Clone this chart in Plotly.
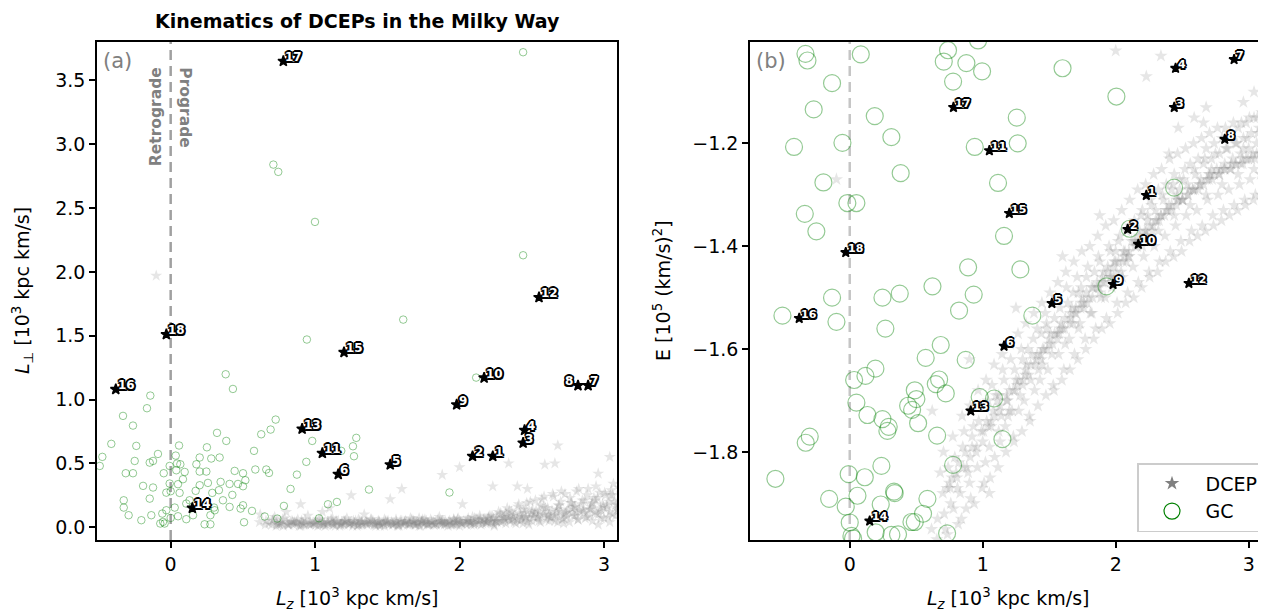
import plotly.graph_objects as go

# ---------------- data ----------------
# labelled DCEPs
dcep_id = [str(i) for i in range(1, 19)]
dcep_lz = [2.23, 2.09, 2.44, 2.45, 1.52, 1.16, 2.89, 2.82, 1.98, 2.17, 1.05, 2.55, 0.91, 0.15, 1.20, -0.38, 0.78, -0.03]
dcep_lperp = [0.556, 0.556, 0.66, 0.76, 0.49, 0.415, 1.11, 1.11, 0.96, 1.17, 0.58, 1.80, 0.77, 0.15, 1.37, 1.08, 3.65, 1.51]
dcep_E = [-1.301, -1.367, -1.130, -1.054, -1.511, -1.594, -1.037, -1.192, -1.474, -1.396, -1.214, -1.472, -1.720, -1.934, -1.336, -1.540, -1.130, -1.412]
label_side_a = ["r"] * 7 + ["l"] + ["r"] * 10

# background DCEP population
bg_lz = [0.66, 0.70, 0.72, 0.75, 0.78, 0.80, 0.83, 0.85, 0.88, 0.90, 0.92, 0.95, 0.97, 1.00, 1.02, 1.04, 1.06, 1.08,
         1.10, 1.12, 1.14, 1.16, 1.18, 1.20, 1.22, 1.24, 1.26, 1.28, 1.30, 1.32, 1.34, 1.36, 1.38, 1.40, 1.42, 1.44,
         1.46, 1.48, 1.50, 1.52, 1.54, 1.56, 1.58, 1.60, 1.62, 1.64, 1.66, 1.68, 1.70, 1.72, 1.74, 1.76, 1.78, 1.80,
         1.82, 1.84, 1.86, 1.88, 1.90, 1.92, 1.94, 1.96, 1.98, 2.00, 2.02, 2.04, 2.06, 2.08, 2.10, 2.12, 2.14, 2.16,
         2.18, 2.20, 2.22, 2.24, 2.26, 2.28, 2.30, 2.32, 2.34, 2.36, 2.38, 2.40, 2.42, 2.44, 2.46, 2.48, 2.50, 2.52,
         2.54, 2.56, 2.58, 2.60, 2.62, 2.64, 2.66, 2.68, 2.70, 2.72, 2.74, 2.76, 2.78, 2.80, 2.82, 2.84, 2.86, 2.88,
         2.90, 2.92, 2.94, 2.96, 2.98, 3.00, 3.02, 3.04, 3.06, 3.08, 3.10, 3.12,
         2.00, 2.34, 2.23, 2.68, 2.96, 3.04, 2.47, 2.59, 2.66, 1.88, 2.40, 1.60, 1.25, 0.90, 0.62, 1.05, -0.10,
         0.68, 0.71, 0.74, 0.76, 0.79, 0.81, 0.84, 0.86, 0.89, 0.91, 0.93, 0.96, 0.98, 1.01, 1.03, 1.05, 1.07, 1.09,
         1.11, 1.13, 1.15, 1.17, 1.19, 1.21, 1.23, 1.25, 1.27, 1.29, 1.31, 1.33, 1.35, 1.37, 1.39, 1.41, 1.43, 1.45,
         1.47, 1.49, 1.51, 1.53, 1.55, 1.57, 1.59, 1.61, 1.63, 1.65, 1.67, 1.69, 1.71, 1.73, 1.75, 1.77, 1.79, 1.81,
         1.83, 1.85, 1.87, 1.89, 1.91, 1.93, 1.95, 1.97, 1.99, 2.01, 2.03, 2.05, 2.07, 2.09, 2.11, 2.13, 2.15, 2.17,
         2.19, 2.21, 2.23, 2.25, 2.27, 2.29, 2.31, 2.33, 2.35, 2.37, 2.39, 2.41, 2.43, 2.45, 2.47, 2.49, 2.51, 2.53,
         2.55, 2.57, 2.59, 2.61, 2.63, 2.65, 2.67, 2.69, 2.71, 2.73, 2.75, 2.77, 2.79, 2.81, 2.83, 2.85, 2.87, 2.89,
         2.91, 2.93, 2.95, 2.97, 2.99, 3.01, 3.03, 3.05, 3.07, 3.09, 3.11,
         0.73, 0.77, 0.82, 0.87, 0.92, 0.99, 1.04, 1.09, 1.13, 1.18, 1.23, 1.27, 1.32, 1.36, 1.41, 1.45, 1.50, 1.54,
         1.58, 1.62, 1.66, 1.70, 1.74, 1.78, 1.82, 1.86, 1.90, 1.94, 1.98, 2.02, 2.06, 2.10, 2.14, 2.18, 2.22, 2.26,
         2.30, 2.34, 2.38, 2.42, 2.46, 2.50, 2.54, 2.58, 2.62, 2.66, 2.70, 2.74, 2.78, 2.82, 2.86, 2.90, 2.94, 2.98,
         3.02, 3.06, 3.10, 1.20, 1.30, 1.44, 1.56, 1.68, 1.76, 1.88, 1.96, 2.08, 2.20, 2.32, 2.44, 2.56, 2.68, 2.80,
         2.92, 3.04, 1.12, 1.48, 1.72, 2.00, 2.24, 2.48, 2.72, 2.96,
         0.615, 0.655, 0.705, 0.735, 0.775, 0.815, 0.845, 0.875, 0.905, 0.935, 0.965, 0.995, 1.025, 1.055, 1.085,
         1.115, 1.145, 1.175, 1.205, 1.235, 1.265, 1.295, 1.325, 1.355, 1.385, 1.415, 1.445, 1.475, 1.505, 1.535,
         1.565, 1.595, 1.625, 1.655, 1.685, 1.715, 1.745, 1.775, 1.805, 1.835, 1.865, 1.895, 1.925, 1.955, 1.985,
         2.015, 2.045, 2.075, 2.105, 2.135, 2.165, 2.195, 2.225, 2.255, 2.285, 2.315, 2.345, 2.375, 2.405, 2.435,
         2.465, 2.495, 2.525, 2.555, 2.585, 2.615, 2.645, 2.675, 2.705, 2.735, 2.765, 2.795, 2.825, 2.855, 2.885,
         2.915, 2.945, 2.975, 3.005, 3.035, 3.065, 3.095, 3.125,
         1.005, 1.065, 1.125, 1.185, 1.245, 1.305, 1.345, 1.395, 1.435, 1.485, 1.525, 1.575, 1.615, 1.655, 1.695,
         1.735, 1.785, 1.825, 1.875, 1.915, 1.965, 2.005, 2.055, 2.095, 2.145, 2.185, 2.235, 2.275, 2.325, 2.365,
         2.415, 2.455, 2.505, 2.545, 2.595, 2.635, 2.685, 2.725, 2.775, 2.815, 2.865, 2.905, 2.955, 2.995, 3.045,
         3.085, 0.955, 0.905, 0.855, 0.805, 0.755]
bg_lperp = [0.05, 0.02, 0.08, 0.03, 0.01, 0.12, 0.04, 0.02, 0.06, 0.01, 0.03, 0.09, 0.02, 0.04, 0.01, 0.06, 0.03, 0.02,
            0.15, 0.04, 0.01, 0.05, 0.03, 0.02, 0.07, 0.03, 0.01, 0.05, 0.02, 0.04, 0.10, 0.02, 0.03, 0.05, 0.01, 0.04,
            0.02, 0.06, 0.03, 0.22, 0.02, 0.04, 0.01, 0.05, 0.03, 0.02, 0.07, 0.03, 0.04, 0.01, 0.05, 0.03, 0.02, 0.06,
            0.04, 0.02, 0.08, 0.03, 0.05, 0.01, 0.04, 0.06, 0.02, 0.05, 0.18, 0.03, 0.07, 0.04, 0.02, 0.06, 0.09, 0.03,
            0.05, 0.08, 0.04, 0.02, 0.07, 0.10, 0.05, 0.03, 0.08, 0.12, 0.04, 0.06, 0.09, 0.03, 0.14, 0.07, 0.05, 0.11,
            0.08, 0.04, 0.16, 0.06, 0.10, 0.13, 0.05, 0.09, 0.20, 0.07, 0.12, 0.04, 0.15, 0.09, 0.06, 0.18, 0.11, 0.08,
            0.14, 0.05, 0.21, 0.10, 0.13, 0.07, 0.17, 0.12, 0.25, 0.09, 0.15, 0.06,
            0.47, 0.50, 0.32, 0.64, 0.42, 0.55, 0.30, 0.49, 0.50, 0.41, 0.32, 0.30, 0.25, 0.18, 0.10, 0.12, 1.97,
            0.03, 0.06, 0.02, 0.04, 0.07, 0.02, 0.05, 0.03, 0.01, 0.04, 0.06, 0.02, 0.03, 0.05, 0.02, 0.04, 0.01, 0.03,
            0.06, 0.02, 0.04, 0.01, 0.03, 0.05, 0.02, 0.04, 0.03, 0.01, 0.05, 0.02, 0.04, 0.03, 0.06, 0.02, 0.04, 0.01,
            0.03, 0.05, 0.02, 0.04, 0.03, 0.01, 0.05, 0.02, 0.04, 0.03, 0.06, 0.02, 0.04, 0.01, 0.03, 0.05, 0.02, 0.04,
            0.03, 0.06, 0.02, 0.04, 0.03, 0.05, 0.02, 0.04, 0.07, 0.03, 0.05, 0.02, 0.04, 0.08, 0.03, 0.05, 0.02, 0.06,
            0.04, 0.09, 0.03, 0.05, 0.12, 0.04, 0.07, 0.15, 0.05, 0.09, 0.03, 0.18, 0.06, 0.11, 0.04, 0.20, 0.08, 0.13,
            0.05, 0.22, 0.10, 0.15, 0.07, 0.24, 0.12, 0.17, 0.06, 0.26, 0.14, 0.19, 0.09, 0.28, 0.13, 0.21, 0.07, 0.30,
            0.16, 0.23, 0.11, 0.27, 0.18, 0.25, 0.08, 0.29, 0.20, 0.14, 0.31,
            0.01, 0.03, 0.02, 0.04, 0.02, 0.03, 0.02, 0.04, 0.03, 0.02, 0.04, 0.03, 0.02, 0.04, 0.03, 0.02, 0.04, 0.03,
            0.02, 0.04, 0.03, 0.02, 0.04, 0.03, 0.02, 0.04, 0.03, 0.02, 0.04, 0.03, 0.05, 0.04, 0.06, 0.03, 0.05, 0.04,
            0.08, 0.06, 0.10, 0.05, 0.08, 0.12, 0.07, 0.10, 0.05, 0.09, 0.13, 0.08, 0.11, 0.06, 0.14, 0.09, 0.12, 0.07,
            0.15, 0.10, 0.13, 0.05, 0.06, 0.05, 0.06, 0.05, 0.06, 0.05, 0.06, 0.02, 0.07, 0.11, 0.14, 0.17, 0.04, 0.16,
            0.19, 0.04, 0.07, 0.01, 0.07, 0.01, 0.01, 0.02, 0.03, 0.02,
            0.04, 0.02, 0.05, 0.03, 0.06, 0.02, 0.04, 0.03, 0.05, 0.02, 0.04, 0.03, 0.06, 0.02, 0.04,
            0.03, 0.05, 0.02, 0.04, 0.03, 0.05, 0.02, 0.04, 0.03, 0.06, 0.02, 0.04, 0.03, 0.05, 0.02,
            0.04, 0.03, 0.05, 0.02, 0.04, 0.03, 0.06, 0.02, 0.04, 0.03, 0.05, 0.02, 0.04, 0.03, 0.06,
            0.03, 0.05, 0.04, 0.07, 0.03, 0.06, 0.04, 0.09, 0.05, 0.11, 0.06, 0.13, 0.07, 0.16, 0.08,
            0.19, 0.10, 0.21, 0.12, 0.24, 0.09, 0.26, 0.14, 0.28, 0.11, 0.23, 0.16, 0.30, 0.13, 0.25,
            0.18, 0.32, 0.15, 0.27, 0.20, 0.34, 0.17, 0.29,
            0.02, 0.03, 0.02, 0.04, 0.03, 0.02, 0.04, 0.03, 0.02, 0.04, 0.03, 0.02, 0.04, 0.03, 0.02,
            0.04, 0.03, 0.02, 0.04, 0.03, 0.02, 0.04, 0.05, 0.03, 0.06, 0.04, 0.07, 0.05, 0.09, 0.06,
            0.11, 0.07, 0.13, 0.09, 0.15, 0.08, 0.17, 0.10, 0.19, 0.12, 0.21, 0.14, 0.23, 0.16, 0.25,
            0.18, 0.03, 0.02, 0.04, 0.03, 0.02]
bg_E = [-1.93, -1.88, -1.95, -1.86, -1.91, -1.84, -1.88, -1.79, -1.83, -1.86, -1.77, -1.80, -1.74, -1.78, -1.82, -1.70,
        -1.75, -1.72, -1.69, -1.76, -1.73, -1.66, -1.70, -1.68, -1.72, -1.64, -1.67, -1.69, -1.62, -1.65, -1.60, -1.66,
        -1.58, -1.62, -1.64, -1.57, -1.60, -1.55, -1.59, -1.61, -1.54, -1.57, -1.52, -1.56, -1.59, -1.51, -1.54, -1.49,
        -1.53, -1.56, -1.48, -1.51, -1.46, -1.50, -1.53, -1.45, -1.48, -1.43, -1.47, -1.50, -1.44, -1.41, -1.46, -1.43,
        -1.39, -1.45, -1.41, -1.37, -1.42, -1.39, -1.35, -1.40, -1.37, -1.33, -1.38, -1.35, -1.31, -1.36, -1.33, -1.29,
        -1.34, -1.31, -1.28, -1.32, -1.29, -1.26, -1.30, -1.27, -1.31, -1.25, -1.28, -1.24, -1.29, -1.26, -1.23, -1.27,
        -1.24, -1.21, -1.26, -1.23, -1.20, -1.25, -1.22, -1.19, -1.24, -1.21, -1.18, -1.23, -1.20, -1.17, -1.22, -1.19,
        -1.16, -1.21, -1.18, -1.15, -1.20, -1.17, -1.14, -1.19,
        -1.02, -1.03, -1.07, -1.13, -1.12, -1.10, -1.17, -1.15, -1.16, -1.34, -1.22, -1.42, -1.52, -1.62, -1.72, -1.88, -1.27,
        -1.84, -1.92, -1.83, -1.90, -1.81, -1.87, -1.93, -1.76, -1.84, -1.89, -1.75, -1.83, -1.71, -1.86, -1.74, -1.79,
        -1.67, -1.81, -1.70, -1.78, -1.64, -1.75, -1.73, -1.62, -1.77, -1.66, -1.72, -1.60, -1.70, -1.63, -1.73, -1.61,
        -1.68, -1.56, -1.66, -1.63, -1.53, -1.64, -1.57, -1.67, -1.50, -1.61, -1.55, -1.64, -1.48, -1.58, -1.52, -1.61,
        -1.46, -1.55, -1.50, -1.58, -1.44, -1.53, -1.48, -1.56, -1.42, -1.50, -1.45, -1.54, -1.40, -1.48, -1.43, -1.51,
        -1.38, -1.46, -1.41, -1.49, -1.36, -1.44, -1.39, -1.47, -1.34, -1.42, -1.37, -1.45, -1.32, -1.40, -1.35, -1.43,
        -1.30, -1.38, -1.33, -1.41, -1.28, -1.36, -1.31, -1.39, -1.27, -1.34, -1.29, -1.37, -1.25, -1.33, -1.28, -1.36,
        -1.23, -1.31, -1.26, -1.34, -1.22, -1.30, -1.25, -1.33, -1.21, -1.29, -1.24, -1.32, -1.20, -1.28, -1.23, -1.31,
        -1.19, -1.27, -1.22, -1.30, -1.18, -1.26, -1.21,
        -1.87, -1.85, -1.82, -1.80, -1.79, -1.76, -1.75, -1.73, -1.71, -1.69, -1.68, -1.66, -1.64, -1.63, -1.61, -1.60,
        -1.58, -1.57, -1.56, -1.54, -1.53, -1.52, -1.51, -1.49, -1.48, -1.47, -1.46, -1.45, -1.44, -1.43, -1.42, -1.41,
        -1.39, -1.38, -1.37, -1.36, -1.35, -1.34, -1.33, -1.32, -1.31, -1.31, -1.30, -1.29, -1.29, -1.28, -1.27, -1.26,
        -1.26, -1.25, -1.25, -1.24, -1.24, -1.23, -1.23, -1.22, -1.22, -1.72, -1.67, -1.62, -1.58, -1.55, -1.52, -1.49,
        -1.46, -1.43, -1.40, -1.37, -1.34, -1.32, -1.30, -1.28, -1.26, -1.25, -1.69, -1.56, -1.49, -1.41, -1.34, -1.29,
        -1.25, -1.21,
        -1.95, -1.97, -1.80, -1.96, -1.77, -1.94, -1.73, -1.91, -1.71, -1.90, -1.68, -1.87, -1.66, -1.85, -1.63,
        -1.83, -1.61, -1.80, -1.59, -1.78, -1.57, -1.76, -1.55, -1.74, -1.53, -1.71, -1.51, -1.69, -1.49, -1.68,
        -1.47, -1.66, -1.45, -1.64, -1.43, -1.62, -1.41, -1.60, -1.40, -1.58, -1.38, -1.56, -1.36, -1.55, -1.35,
        -1.53, -1.33, -1.51, -1.31, -1.50, -1.29, -1.48, -1.28, -1.46, -1.26, -1.45, -1.25, -1.43, -1.23, -1.42,
        -1.22, -1.41, -1.21, -1.39, -1.20, -1.38, -1.19, -1.37, -1.18, -1.36, -1.17, -1.35, -1.17, -1.34, -1.16,
        -1.33, -1.16, -1.32, -1.15, -1.31, -1.15, -1.30, -1.16,
        -1.76, -1.74, -1.72, -1.70, -1.68, -1.66, -1.65, -1.63, -1.61, -1.60, -1.59, -1.57, -1.56, -1.55, -1.53,
        -1.52, -1.51, -1.50, -1.48, -1.47, -1.46, -1.45, -1.43, -1.42, -1.40, -1.39, -1.38, -1.37, -1.35, -1.34,
        -1.33, -1.32, -1.31, -1.30, -1.29, -1.28, -1.27, -1.27, -1.26, -1.25, -1.25, -1.24, -1.24, -1.23, -1.23,
        -1.22, -1.79, -1.81, -1.83, -1.85, -1.87]

# globular clusters, panel (a)
gc_a_lz = [0.943, 0.381, 0.431, -0.141, -0.164, -0.330, -0.261, 0.727, 0.692, 0.627, 0.321, 0.385, 0.980, 1.285, 1.262,
           1.269, 1.181, -0.411, -0.238, 0.058, 0.251, -0.473, -0.491, -0.249, -0.145, -0.122, -0.088, 0.035, 0.044,
           0.067, -0.007, 0.097, 0.039, -0.048, -0.311, -0.261, 0.178, 0.201, 0.281, 0.339, 0.577, 0.586, 0.662, 0.681,
           0.939, 0.874, 0.443, 0.501, 0.247, 0.201, 0.085, 0.051, -0.007, 0.000, 0.062, -0.030, -0.191, -0.122, -0.145,
           -0.325, -0.325, -0.291, -0.203, -0.134, -0.058, -0.072, -0.042, 0.000, 0.051, 0.108, 0.131, 0.108, 0.173,
           0.201, 0.258, 0.288, 0.334, 0.346, 0.408, 0.466, 0.501, 0.517, 0.427, 0.362, 0.300, 0.305, 0.408, 0.484,
           0.501, 0.563, 0.508, 0.235, 0.275, 0.275, 0.155, 0.651, 0.738, 0.784, 0.830, 1.027, 1.089, 1.151, 1.373,
           -0.030, 0.028, -0.053, 0.711, 0.745, 0.999, 1.610, 2.44, 2.44, 2.115, 1.93]
gc_a_lperp = [1.470, 1.198, 1.083, 1.031, 0.932, 0.872, 0.796, 0.843, 0.765, 0.728, 0.739, 0.676, 0.676, 0.700, 0.634,
              0.556, 0.598, 0.653, 0.637, 0.640, 0.626, 0.551, 0.480, 0.519, 0.506, 0.519, 0.574, 0.561, 0.499, 0.493,
              0.480, 0.433, 0.446, 0.423, 0.423, 0.423, 0.493, 0.546, 0.538, 0.546, 0.598, 0.452, 0.452, 0.425, 0.512,
              0.412, 0.441, 0.423, 0.436, 0.436, 0.376, 0.337, 0.342, 0.282, 0.269, 0.271, 0.324, 0.311, 0.224, 0.211,
              0.154, 0.094, 0.055, 0.094, 0.107, 0.029, 0.029, 0.073, 0.086, 0.063, 0.211, 0.185, 0.285, 0.329, 0.347,
              0.269, 0.290, 0.355, 0.339, 0.339, 0.321, 0.368, 0.253, 0.211, 0.154, 0.133, 0.159, 0.146, 0.172, 0.128,
              0.039, 0.023, 0.094, 0.023, 0.094, 0.084, 0.068, 0.167, 0.300, 0.070, 0.180, 0.198, 0.295, 0.133, 0.154,
              0.042, 2.840, 2.783, 2.391, 1.626, 3.72, 2.13, 1.172, 0.272]

# globular clusters, panel (b)
gc_b_lz = [-0.333, -0.318, 0.083, 0.739, 0.707, 0.877, 0.995, 0.777, 0.965, -0.133, -0.271, 0.188, 0.313, -0.419, -0.055,
           0.940, 0.383, -0.198, -0.018, 0.050, -0.338, -0.251, 1.115, 1.16,
           -0.133, 0.246, 0.376, 0.622, 0.932, 0.822, 1.373, -0.506, -0.100, 0.268, 0.684, 0.571, 0.872, 0.193, 0.118,
           0.033, 0.672, 0.647, 0.722, 0.489, 0.501, 0.439, 0.469, 0.977, 1.085, 0.050, 0.133, 0.246, 0.293, 0.283,
           0.514, 0.657, 1.148, -0.301, -0.331, 0.777, 0.238, -0.008, 0.113, -0.559, 0.333, 0.338, 0.058, -0.155, 0.584,
           0.233, -0.030, 0.551, 0.464, 0.489, 0.000, 0.195, 0.013, 0.025, 0.313, 0.363, 0.732,
           2.439, 2.105, 1.930, 0.890, 1.283, 2.005, 1.60, 1.256, 1.263]
gc_b_E = [-1.026, -1.039, -1.027, -1.019, -1.041, -1.044, -1.060, -1.080, -1.000, -1.083, -1.134, -1.147, -1.188, -1.207,
          -1.199, -1.207, -1.258, -1.276, -1.316, -1.316, -1.337, -1.371, -1.277, -1.38,
          -1.500, -1.500, -1.492, -1.478, -1.494, -1.525, -1.535, -1.535, -1.547, -1.560, -1.592, -1.617, -1.621, -1.638,
          -1.652, -1.660, -1.659, -1.668, -1.686, -1.680, -1.697, -1.710, -1.718, -1.693, -1.696, -1.704, -1.728, -1.736,
          -1.751, -1.759, -1.744, -1.768, -1.775, -1.770, -1.782, -1.825, -1.827, -1.843, -1.849, -1.852, -1.877, -1.880,
          -1.885, -1.891, -1.891, -1.902, -1.906, -1.920, -1.936, -1.936, -1.937, -1.956, -1.963, -1.968, -1.961, -1.960,
          -1.958,
          -1.286, -1.366, -1.478, -1.441, -1.445, -1.109, -1.054, -1.150, -1.200]

x_ticks = [0, 1, 2, 3]
ya_ticks = [0.0, 0.5, 1.0, 1.5, 2.0, 2.5, 3.0, 3.5]
yb_ticks = [-1.8, -1.6, -1.4, -1.2]

# ---------------- figure ----------------
FONT = "DejaVu Sans"
# the page body adds an 8 px offset; work in reference pixels minus 8
OFF = 8
W, H = 1266 - OFF, 612 - OFF


def px(x):
    return (x - OFF) / W


def py(y):
    return 1 - (y - OFF) / H


bg_col = "rgba(128,128,128,0.2)"
gc_col = "rgba(0,128,0,0.42)"
outline = ("-1.5px -1.5px 0 #000, 1.5px -1.5px 0 #000, -1.5px 1.5px 0 #000, 1.5px 1.5px 0 #000, "
           "0 1.8px 0 #000, 0 -1.8px 0 #000, 1.8px 0 0 #000, -1.8px 0 0 #000")

fig = go.Figure()

# panel (a)
fig.add_trace(go.Scatter(x=bg_lz, y=bg_lperp, mode="markers", xaxis="x", yaxis="y", showlegend=False,
                         marker=dict(symbol="star", size=9, color=bg_col, line=dict(width=0))))
fig.add_trace(go.Scatter(x=gc_a_lz, y=gc_a_lperp, mode="markers", xaxis="x", yaxis="y", showlegend=False,
                         marker=dict(symbol="circle-open", size=7.5, color=gc_col, line=dict(width=1))))
fig.add_trace(go.Scatter(x=dcep_lz, y=dcep_lperp, mode="markers", xaxis="x", yaxis="y", showlegend=False,
                         marker=dict(symbol="star", size=8, color="black", line=dict(width=1.5, color="black"))))

# panel (b)
fig.add_trace(go.Scatter(x=bg_lz, y=bg_E, mode="markers", xaxis="x2", yaxis="y2", showlegend=False,
                         marker=dict(symbol="star", size=10, color=bg_col, line=dict(width=0))))
fig.add_trace(go.Scatter(x=gc_b_lz, y=gc_b_E, mode="markers", xaxis="x2", yaxis="y2", showlegend=False,
                         marker=dict(symbol="circle-open", size=17, color=gc_col, line=dict(width=1.2))))
fig.add_trace(go.Scatter(x=dcep_lz, y=dcep_E, mode="markers", xaxis="x2", yaxis="y2", showlegend=False,
                         marker=dict(symbol="star", size=7.5, color="black", line=dict(width=1.5, color="black"))))

# legend proxies
fig.add_trace(go.Scatter(x=[None], y=[None], mode="markers", name="DCEP", xaxis="x2", yaxis="y2",
                         marker=dict(symbol="star", size=11, color="grey")))
fig.add_trace(go.Scatter(x=[None], y=[None], mode="markers", name="GC", xaxis="x2", yaxis="y2",
                         marker=dict(symbol="circle-open", size=16, color="green", line=dict(width=1.2))))

annotations = []
for i, t in enumerate(dcep_id):
    side = label_side_a[i]
    annotations.append(dict(x=dcep_lz[i], y=dcep_lperp[i], xref="x", yref="y", text=t, showarrow=False,
                            xanchor="left" if side == "r" else "right", yanchor="middle",
                            xshift=0 if side == "r" else -3, yshift=4,
                            font=dict(family=FONT, size=12, color="white", weight="bold", shadow=outline)))
    annotations.append(dict(x=dcep_lz[i], y=dcep_E[i], xref="x2", yref="y2", text=t, showarrow=False,
                            xanchor="left", yanchor="middle", xshift=0, yshift=4,
                            font=dict(family=FONT, size=11, color="white", weight="bold", shadow=outline)))

xa0, xa1 = px(97), px(617)
xb0, xb1 = px(750), 1.0
y0, y1 = py(540), py(42)

annotations += [
    dict(x=(xa0 + xa1) / 2, y=py(21), xref="paper", yref="paper", text="<b>Kinematics of DCEPs in the Milky Way</b>",
         showarrow=False, xanchor="center", yanchor="middle", font=dict(family=FONT, size=19, color="black")),
    dict(x=(xa0 + xa1) / 2, y=py(598), xref="paper", yref="paper",
         text="<i>L<sub>z</sub></i> [10<sup>3</sup> kpc km/s]", showarrow=False, xanchor="center", yanchor="middle",
         font=dict(family=FONT, size=19, color="black")),
    dict(x=(px(750) + px(1266)) / 2, y=py(598), xref="paper", yref="paper",
         text="<i>L<sub>z</sub></i> [10<sup>3</sup> kpc km/s]", showarrow=False, xanchor="center", yanchor="middle",
         font=dict(family=FONT, size=19, color="black")),
    dict(x=px(22), y=(y0 + y1) / 2, xref="paper", yref="paper",
         text="<i>L</i><sub>⊥</sub> [10<sup>3</sup> kpc km/s]", showarrow=False, textangle=-90,
         xanchor="center", yanchor="middle", font=dict(family=FONT, size=19, color="black")),
    dict(x=px(662), y=(y0 + y1) / 2, xref="paper", yref="paper",
         text="E [10<sup>5</sup> (km/s)<sup>2</sup>]", showarrow=False, textangle=-90,
         xanchor="center", yanchor="middle", font=dict(family=FONT, size=19, color="black")),
    dict(x=0, y=3.62, xref="x", yref="y", text="<b>Retrograde</b>", showarrow=False, textangle=-90,
         xanchor="right", yanchor="top", xshift=-3, font=dict(family=FONT, size=15.5, color="grey")),
    dict(x=0, y=3.62, xref="x", yref="y", text="<b>Prograde</b>", showarrow=False, textangle=90,
         xanchor="left", yanchor="top", xshift=3, font=dict(family=FONT, size=15.5, color="grey")),
    dict(x=0.008, y=0.99, xref="x domain", yref="y domain", text="(a)", showarrow=False,
         xanchor="left", yanchor="top", font=dict(family=FONT, size=21, color="grey")),
    dict(x=0.008, y=0.99, xref="x2 domain", yref="y2 domain", text="(b)", showarrow=False,
         xanchor="left", yanchor="top", font=dict(family=FONT, size=21, color="grey")),
]

shapes = [
    dict(type="line", xref="x", yref="y domain", x0=0, x1=0, y0=0, y1=1,
         line=dict(color="rgba(128,128,128,0.75)", width=2.5, dash="10px,6px"), layer="below"),
    dict(type="line", xref="x2", yref="y2 domain", x0=0, x1=0, y0=0, y1=1,
         line=dict(color="rgba(150,150,150,0.55)", width=2.5, dash="10px,6px"), layer="below"),
]

axis_common = dict(showgrid=False, zeroline=False, showline=True, linecolor="black", linewidth=1.5, mirror=True,
                   ticks="outside", ticklen=6, tickwidth=1.5, tickcolor="black",
                   tickfont=dict(family=FONT, size=19, color="black"), automargin=False)

fig.update_layout(
    width=W, height=H, margin=dict(l=0, r=0, t=0, b=0),
    paper_bgcolor="white", plot_bgcolor="white",
    xaxis=dict(domain=[xa0, xa1], range=[-0.51, 3.09], tickvals=x_ticks, anchor="y", **axis_common),
    yaxis=dict(domain=[y0, y1], range=[-0.10, 3.80], tickvals=ya_ticks, tickformat=".1f", anchor="x", **axis_common),
    xaxis2=dict(domain=[xb0, xb1], range=[-0.75, 3.13], tickvals=x_ticks, anchor="y2", **axis_common),
    yaxis2=dict(domain=[y0, y1], range=[-1.971, -1.003], tickvals=yb_ticks, tickformat=".1f", anchor="x2",
                **axis_common),
    showlegend=True,
    legend=dict(x=px(1264), y=py(532), xanchor="right", yanchor="bottom", bgcolor="white",
                bordercolor="#cccccc", borderwidth=1.5, font=dict(family=FONT, size=19, color="black"),
                itemsizing="trace", itemwidth=57),
    annotations=annotations, shapes=shapes,
)

fig.write_html("out.html")
